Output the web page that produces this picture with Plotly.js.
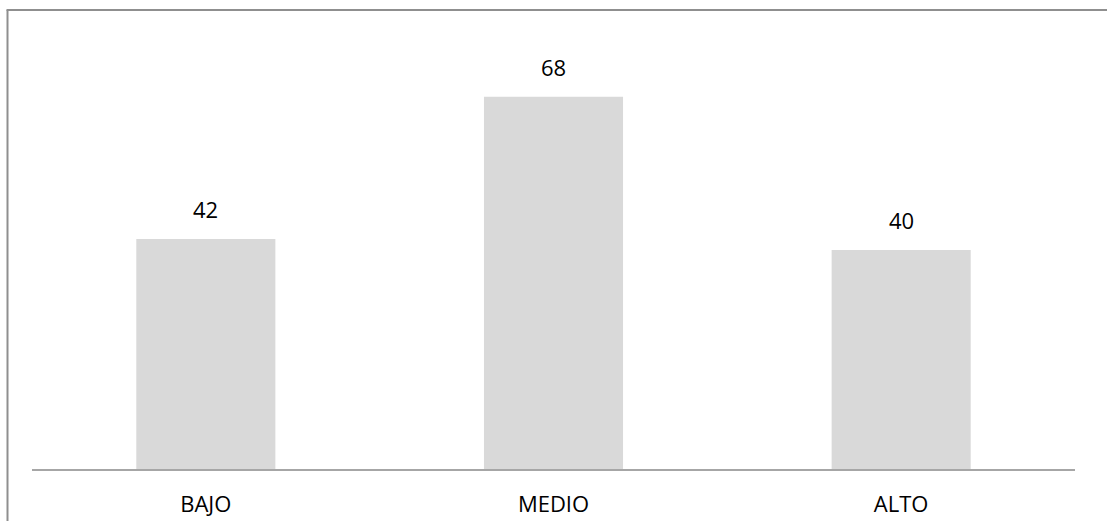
<!DOCTYPE html>
<html>
<head>
<meta charset="utf-8">
<script src="https://cdn.plot.ly/plotly-3.0.1.min.js"></script>
<style>html,body{margin:0;padding:0;background:#fff;overflow:hidden}</style>
</head>
<body>
<div id="chart" style="width:1107px;height:521px"></div>
<script>
const categories = ["BAJO", "MEDIO", "ALTO"];
const values = [42, 68, 40];

const W = 1107, H = 521;
const m = {l: 32, r: 32, t: 31, b: 52};
const pw = W - m.l - m.r, ph = H - m.t - m.b;
const px = x => (x - m.l) / pw;
const py = y => (H - m.b - y) / ph;

const font = "'Open Sans', Lato, 'Liberation Sans', sans-serif";

const trace = {
  type: "bar",
  x: categories,
  y: values,
  marker: {color: "#d9d9d9"},
  hoverinfo: "none"
};

const annotations = categories.map((c, i) => ({
  x: c, y: values[i], text: String(values[i]),
  showarrow: false, yanchor: "bottom", yshift: 13,
  font: {family: font, size: 22, color: "#000000"}
}));

const layout = {
  width: W, height: H,
  margin: m,
  paper_bgcolor: "#fff", plot_bgcolor: "#fff",
  showlegend: false,
  bargap: 0.6,
  xaxis: {
    showline: true, linecolor: "#a6a6a6", linewidth: 1.5,
    ticks: "", showgrid: false, zeroline: false,
    tickfont: {family: font, size: 22, color: "#000000"},
    ticklabelstandoff: 15
  },
  yaxis: {
    range: [0, 80], visible: false, showgrid: false, zeroline: false
  },
  annotations: annotations,
  shapes: [
    {type: "line", xref: "paper", yref: "paper", x0: px(7.5), x1: px(7.5), y0: py(H + 20), y1: py(10), line: {color: "#8f8f8f", width: 2}},
    {type: "line", xref: "paper", yref: "paper", x0: px(6.5), x1: px(W), y0: py(10), y1: py(10), line: {color: "#8f8f8f", width: 2}}
  ]
};

Plotly.newPlot("chart", [trace], layout, {staticPlot: true, displayModeBar: false});
</script>
</body>
</html>
